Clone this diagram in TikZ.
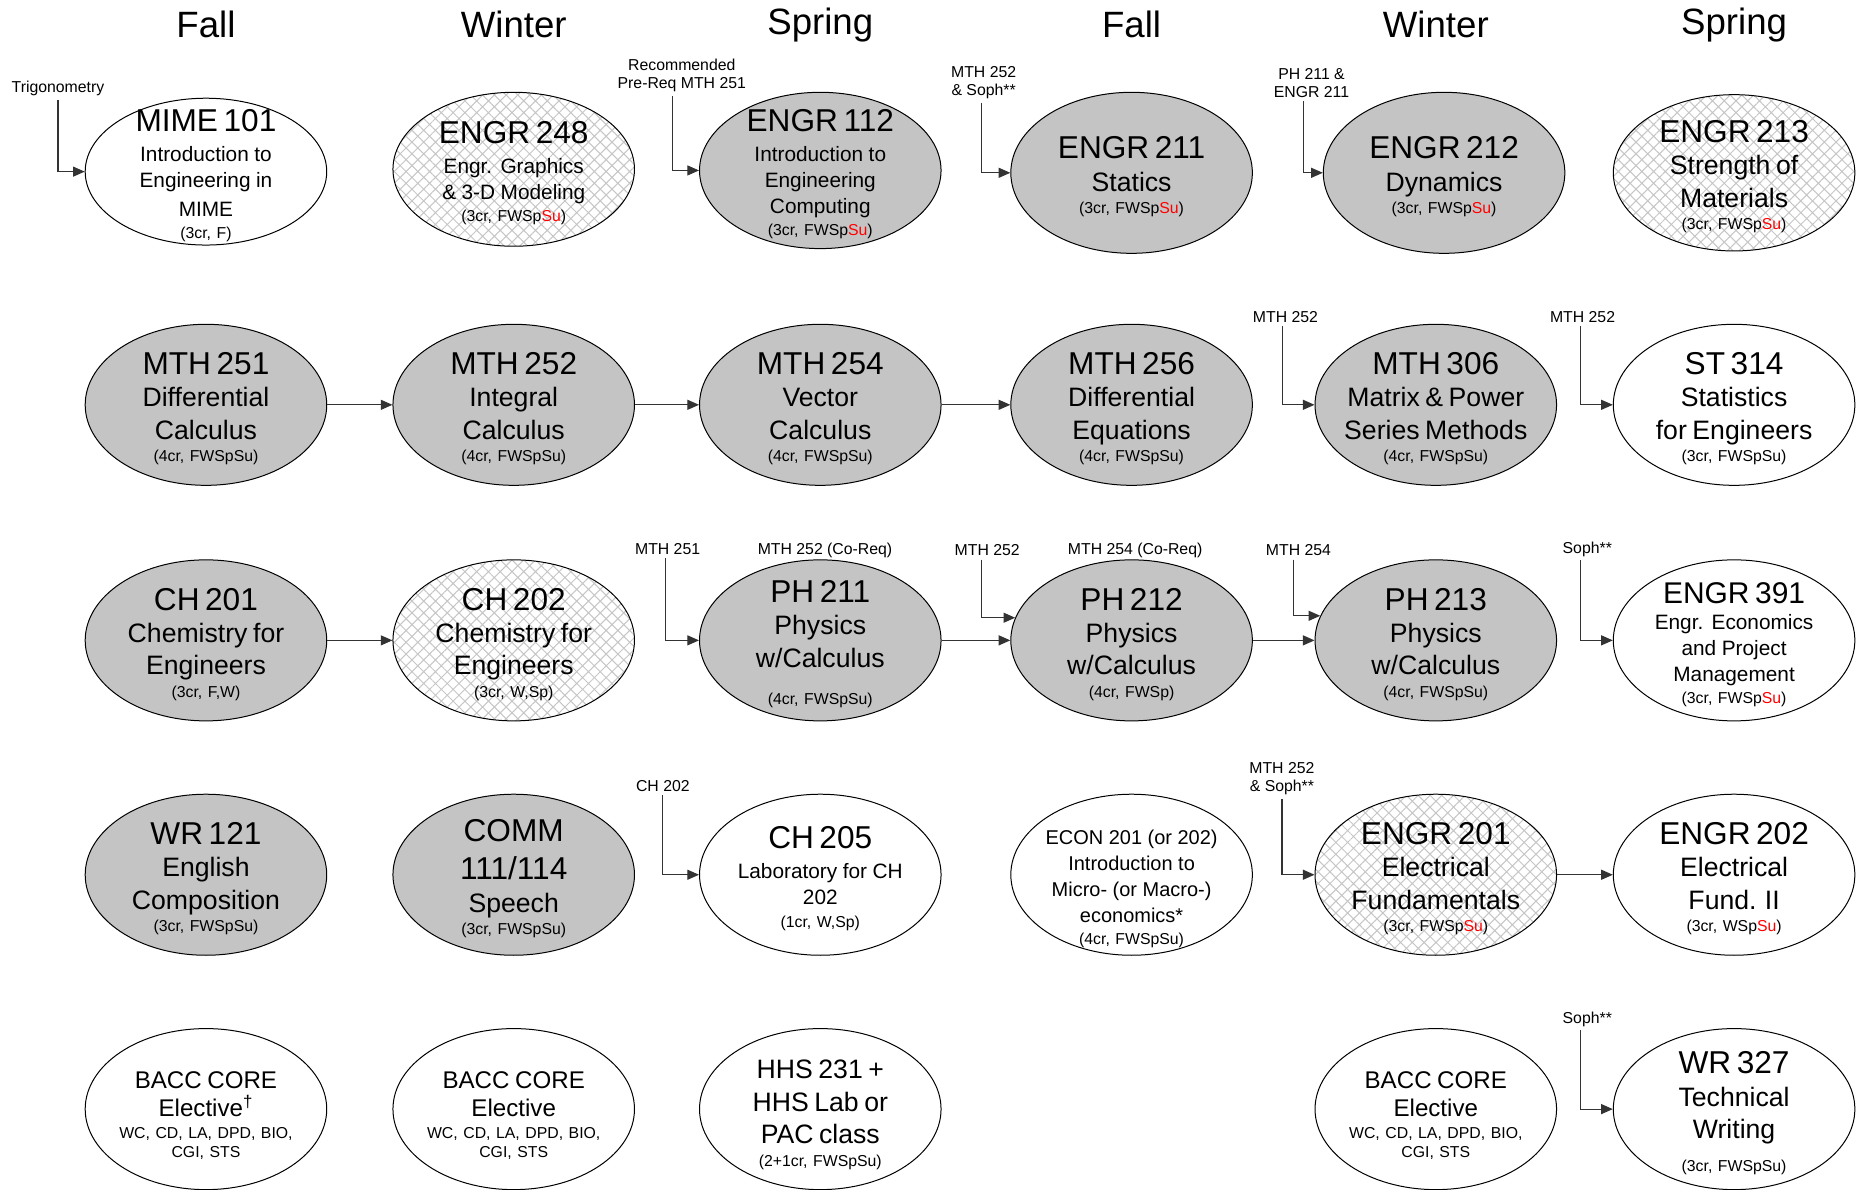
\documentclass[tikz,border=0pt]{standalone}
\usepackage{fontspec}
\setmainfont{Liberation Sans}
\usepackage{xcolor}
\usepackage{tikz}
\usetikzlibrary{shapes.geometric,arrows.meta,patterns.meta}

\setlength{\parindent}{0pt}
\setlength{\parskip}{0pt}

\newcommand{\cnum}[1]{{\fontsize{19}{23}\selectfont #1\par}}
\newcommand{\ctxt}[1]{{\fontsize{16}{19.5}\selectfont #1\par}}
\newcommand{\cmid}[1]{{\fontsize{14.5}{16.5}\selectfont #1\par}}
\newcommand{\ctxs}[1]{{\fontsize{12.5}{15.5}\selectfont #1\par}}
\newcommand{\ccr}[1]{{\fontsize{9.5}{13.5}\selectfont #1\par}}
\newcommand{\clst}[1]{{\fontsize{9.5}{11.5}\selectfont #1\par}}
\newcommand{\su}{\textcolor{red}{Su}}

\begin{document}
\begin{tikzpicture}[
				x=0.025cm, y=-0.025cm,
				course/.style={ellipse, draw, line width=0.6pt, minimum width=5.1cm, minimum height=3.4cm, inner sep=-2cm, text width=4.2cm, align=center, execute at begin node={\rule{0pt}{18pt}}},
				gcourse/.style={course, fill=gray!46},
				xcourse/.style={course, pattern={Hatch[angle=45, distance=5pt, line width=0.6pt]}, pattern color=gray!45},
				wcourse/.style={course, fill=white},
				term/.style={font=\fontsize{22}{24}\selectfont},
				prq/.style={font=\fontsize{9.5}{11}\selectfont, align=center, inner sep=2pt},
				arr/.style={-{Triangle[length=7pt, width=6pt]}, line width=0.7pt, draw=black!80},
				]
				\useasboundingbox (0,0) rectangle (1568,1005);
				
				%Terms
				\node[term] (fall1) at (174,21) {Fall};
				\node[term] (winter1) at (434,21) {Winter};
				\node[term] (spring1) at (693,21) {Spring};
				\node[term] (fall2) at (956,21) {Fall};
				\node[term] (winter2) at (1213,21) {Winter};
				\node[term] (spring2) at (1465,21) {Spring};
				
				%Courses
				\node[wcourse, minimum height=3.1cm] (mime101) at (174,145) {\cnum{MIME 101}\vspace{2.5pt}\ctxs{Introduction to}\ctxs{Engineering in}\vspace{2pt}\ctxs{MIME}\ccr{(3cr, F)}};
				\node[xcourse, minimum height=3.25cm] (engr248) at (434,143) {\cnum{ENGR 248}\vspace{2.5pt}\ctxs{Engr. Graphics}\ctxs{\& 3-D Modeling}\ccr{(3cr, FWSp\su)}};
				\node[gcourse, minimum height=3.3cm] (engr112) at (693,144) {\cnum{ENGR 112}\vspace{2.5pt}\ctxs{Introduction to}\ctxs{Engineering}\ctxs{Computing}\ccr{(3cr, FWSp\su)}};
				\node[gcourse] (engr211) at (956,146) {\cnum{ENGR 211}\ctxt{Statics}\ccr{(3cr, FWSp\su)}};
				\node[gcourse] (engr212) at (1220,146) {\cnum{ENGR 212}\ctxt{Dynamics}\ccr{(3cr, FWSp\su)}};
				\node[xcourse, minimum height=3.3cm] (engr213) at (1465,146) {\cnum{ENGR 213}\ctxt{Strength of}\ctxt{Materials}\ccr{(3cr, FWSp\su)}};
				
				\node[gcourse] (mth251) at (174,342) {\cnum{MTH 251}\ctxt{Differential}\ctxt{Calculus}\ccr{(4cr, FWSpSu)}};
				\node[gcourse] (mth252) at (434,342) {\cnum{MTH 252}\ctxt{Integral}\ctxt{Calculus}\ccr{(4cr, FWSpSu)}};
				\node[gcourse] (mth254) at (693,342) {\cnum{MTH 254}\ctxt{Vector}\ctxt{Calculus}\ccr{(4cr, FWSpSu)}};
				\node[gcourse] (mth256) at (956,342) {\cnum{MTH 256}\ctxt{Differential}\ctxt{Equations}\ccr{(4cr, FWSpSu)}};
				\node[gcourse] (mth306) at (1213,342) {\cnum{MTH 306}\ctxt{Matrix \& Power}\ctxt{Series Methods}\ccr{(4cr, FWSpSu)}};
				\node[wcourse] (st314) at (1465,342) {\cnum{ST 314}\ctxt{Statistics}\ctxt{for Engineers}\ccr{(3cr, FWSpSu)}};
				
				\node[gcourse] (ch201) at (174,541) {\cnum{CH 201}\ctxt{Chemistry for}\ctxt{Engineers}\ccr{(3cr, F,W)}};
				\node[xcourse] (ch202) at (434,541) {\cnum{CH 202}\ctxt{Chemistry for}\ctxt{Engineers}\ccr{(3cr, W,Sp)}};
				\node[gcourse] (ph211) at (693,541) {\cnum{PH 211}\ctxt{Physics}\ctxt{w/Calculus}\vspace{9pt}\ccr{(4cr, FWSpSu)}};
				\node[gcourse] (ph212) at (956,541) {\cnum{PH 212}\ctxt{Physics}\ctxt{w/Calculus}\ccr{(4cr, FWSp)}};
				\node[gcourse] (ph213) at (1213,541) {\cnum{PH 213}\ctxt{Physics}\ctxt{w/Calculus}\ccr{(4cr, FWSpSu)}};
				\node[wcourse] (engr391) at (1465,541) {{\fontsize{18}{22}\selectfont ENGR 391\par}\ctxs{Engr. Economics}\ctxs{and Project}\ctxs{Management}\ccr{(3cr, FWSp\su)}};
				
				\node[gcourse] (wr121) at (174,739) {\cnum{WR 121}\ctxt{English}\ctxt{Composition}\ccr{(3cr, FWSpSu)}};
				\node[gcourse] (comm111) at (434,739) {\cnum{COMM}\cnum{111/114}\ctxt{Speech}\ccr{(3cr, FWSpSu)}};
				\node[wcourse] (ch205) at (693,739) {\cnum{CH 205}\vspace{2.5pt}\ctxs{Laboratory for CH}\ctxs{202}\ccr{(1cr, W,Sp)}};
				\node[wcourse] (econ201) at (956,739) {{\fontsize{12}{15.5}\selectfont \rule{0pt}{26pt}ECON 201 (or 202)\par Introduction to\par Micro- (or Macro-)\par economics*\par}\ccr{(4cr, FWSpSu)}};
				\node[xcourse] (engr201) at (1213,739) {\cnum{ENGR 201}\ctxt{Electrical}\ctxt{Fundamentals}\ccr{(3cr, FWSp\su)}};
				\node[wcourse] (engr202) at (1465,739) {\cnum{ENGR 202}\ctxt{Electrical}\ctxt{Fund. II}\ccr{(3cr, WSp\su)}};
				
				\node[wcourse] (bacc1) at (174,937) {\cmid{BACC CORE}\cmid{Elective\textsuperscript{\textdagger}}\vspace{2pt}\clst{WC, CD, LA, DPD, BIO,}\clst{CGI, STS}};
				\node[wcourse] (bacc2) at (434,937) {\cmid{BACC CORE}\cmid{Elective}\vspace{2pt}\clst{WC, CD, LA, DPD, BIO,}\clst{CGI, STS}};
				\node[wcourse] (hhs231) at (693,937) {\ctxt{HHS 231 +}\ctxt{HHS Lab or}\ctxt{PAC class}\ccr{(2+1cr, FWSpSu)}};
				\node[wcourse] (bacc3) at (1213,937) {\cmid{BACC CORE}\cmid{Elective}\vspace{2pt}\clst{WC, CD, LA, DPD, BIO,}\clst{CGI, STS}};
				\node[wcourse] (wr327) at (1465,937) {\cnum{WR 327}\ctxt{Technical}\ctxt{Writing}\vspace{6pt}\ccr{(3cr, FWSpSu)}};
				
				%Pre-reqs
				\node[prq] (trig) at (49,75) {Trigonometry};
				\node[prq] (rec251) at (576,64) {Recommended\\Pre-Req MTH 251};
				\node[prq] (mthsoph1) at (831,70) {MTH 252\\\& Soph**};
				\node[prq] (phengr) at (1108,70) {PH 211 \&\\ENGR 211};
				\node[prq] (mth252a) at (1086,268) {MTH 252};
				\node[prq] (mth252b) at (1337,268) {MTH 252};
				\node[prq] (mth251a) at (564,464) {MTH 251};
				\node[prq] (coreq252) at (697,465) {MTH 252 (Co-Req)};
				\node[prq] (mth252c) at (834,465) {MTH 252};
				\node[prq] (coreq254) at (959,465) {MTH 254 (Co-Req)};
				\node[prq] (mth254a) at (1097,465) {MTH 254};
				\node[prq] (soph1) at (1341,464) {Soph**};
				\node[prq] (ch202a) at (560,664) {CH 202};
				\node[prq] (mthsoph2) at (1083,658) {MTH 252\\\& Soph**};
				\node[prq] (soph2) at (1341,861) {Soph**};
				
				%Lines
				\draw[arr] (trig.south) |- (mime101);
				\draw[arr] ([xshift=-5.5pt]rec251.south) |- (engr112);
				\draw[arr] ([xshift=-1.5pt]mthsoph1.south) |- (engr211);
				\draw[arr] ([xshift=-5pt]phengr.south) |- (engr212);
				\draw[arr] ([xshift=-2pt]mth252a.south) |- (mth306);
				\draw[arr] ([xshift=-1.5pt]mth252b.south) |- (st314);
				\draw[arr] ([xshift=-1.5pt]mth251a.south) |- (ph211);
				\draw[arr] ([xshift=-3.5pt]mth252c.south) |- (ph212.169);
				\draw[arr] ([xshift=-3pt]mth254a.south) |- (ph213.168);
				\draw[arr] ([xshift=-4pt]soph1.south) |- (engr391);
				\draw[arr] (ch202a.south) |- (ch205);
				\draw[arr] (mthsoph2.south) |- (engr201);
				\draw[arr] ([xshift=-4pt]soph2.south) |- (wr327);
				
				\draw[arr] (mth251) -- (mth252);
				\draw[arr] (mth252) -- (mth254);
				\draw[arr] (mth254) -- (mth256);
				\draw[arr] (ch201) -- (ch202);
				\draw[arr] (ph211) -- (ph212);
				\draw[arr] (ph212) -- (ph213);
				\draw[arr] (engr201) -- (engr202);
				
			\end{tikzpicture}
\end{document}
